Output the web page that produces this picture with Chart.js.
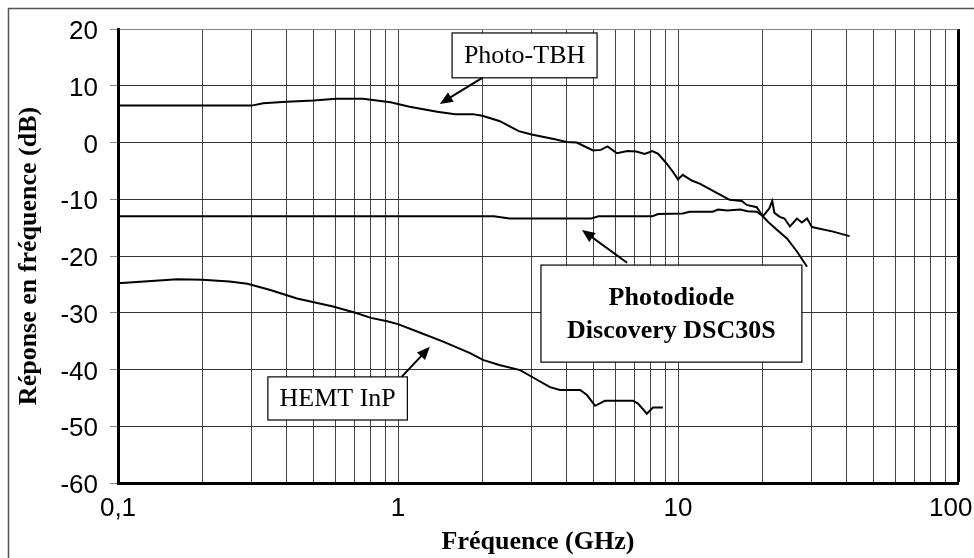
<!DOCTYPE html>
<html>
<head>
<meta charset="utf-8">
<script src="https://cdn.jsdelivr.net/npm/chart.js@4.4.1/dist/chart.umd.min.js"></script>
<style>
body { margin: 0; background: #ffffff; overflow: hidden; }
#wrap { position: relative; width: 974px; height: 558px; }
</style>
</head>
<body>
<div id="wrap"><canvas id="chart" width="974" height="558"></canvas></div>
<script>
// Photo-TBH
var tbhFreq = [0.1, 0.3, 0.33, 0.4, 0.5, 0.6, 0.75, 0.94, 1.1, 1.38, 1.6, 1.85, 2.0, 2.3, 2.7, 3.0, 3.6, 4.0, 4.35,
  4.97, 5.3, 5.6, 6.05, 6.6, 7.1, 7.6, 8.1, 8.5, 9.1, 9.6, 10.0, 10.4, 11.2, 12.0, 13.8, 15.3, 16.9, 17.6, 19.1,
  20.1, 21.2, 21.7, 22.1, 23.1, 24.0, 25.1, 26.6, 27.7, 28.9, 30.1, 35.8, 41.0];
var tbhDb = [6.5, 6.5, 6.9, 7.2, 7.4, 7.7, 7.7, 7.1, 6.3, 5.4, 5.0, 5.0, 4.7, 3.8, 2.0, 1.4, 0.6, 0.1, 0.0,
  -1.4, -1.3, -0.7, -1.9, -1.5, -1.6, -2.0, -1.5, -2.0, -3.7, -5.2, -6.5, -5.7, -6.7, -7.3, -8.9, -10.1, -10.3, -11.0, -11.4,
  -13.0, -11.6, -10.3, -12.4, -13.1, -13.4, -14.8, -13.4, -14.1, -13.4, -14.9, -15.7, -16.5];

// Photodiode Discovery DSC30S
var pdFreq = [0.1, 2.2, 2.5, 4.9, 5.2, 8.1, 8.5, 10.4, 11.0, 13.3, 13.9, 15.0, 16.7, 17.7, 19.1, 20.1, 21.0, 22.6, 24.5, 26.6, 28.9];
var pdDb = [-13.0, -13.0, -13.4, -13.4, -13.0, -13.0, -12.6, -12.5, -12.2, -12.2, -11.8, -12.0, -11.8, -12.1, -12.2, -13.0, -14.0, -15.4, -16.9, -19.2, -21.9];

// HEMT InP
var hemtFreq = [0.1, 0.163, 0.2, 0.25, 0.29, 0.35, 0.436, 0.586, 0.714, 0.8, 0.915, 1.0, 1.17, 1.45, 1.81, 2.01, 2.3,
  2.73, 2.96, 3.49, 3.79, 4.47, 4.73, 5.06, 5.49, 6.9, 7.2, 7.74, 8.14, 8.83];
var hemtDb = [-24.8, -24.1, -24.2, -24.5, -24.9, -26.0, -27.5, -28.9, -30.1, -30.9, -31.5, -32.0, -33.3, -35.1, -37.1, -38.3, -39.2,
  -40.1, -41.1, -43.1, -43.6, -43.6, -44.5, -46.4, -45.5, -45.5, -46.0, -47.8, -46.7, -46.7];

// axes
var xGrid = [0.1, 0.2, 0.3, 0.4, 0.5, 0.6, 0.7, 0.8, 0.9, 1, 2, 3, 4, 5, 6, 7, 8, 9, 10, 20, 30, 40, 50, 60, 70, 80, 90, 100];
var xMajor = [0.1, 1, 10, 100];
var xLabels = ["0,1", "1", "10", "100  "];   // trailing spaces keep "100" inside the frame
var yTicks = [-60, -50, -40, -30, -20, -10, 0, 10, 20];

// text boxes and arrows (data units)
var notes = [
  { text: ["Photo-TBH"], bold: false, x0: 1.56, x1: 5.14, y0: 19.3, y1: 11.4, from: [2.0, 11.4], to: [1.41, 6.8] },
  { text: ["Photodiode", "Discovery DSC30S"], bold: true, x0: 3.24, x1: 27.7, y0: -21.6, y1: -38.7, from: [6.58, -21.2], to: [4.54, -15.4] },
  { text: ["HEMT InP"], bold: false, x0: 0.343, x1: 1.08, y0: -41.3, y1: -48.9, from: [1.03, -41.3], to: [1.30, -36.0] }
];

function pts(xs, ys) {
  return xs.map(function (v, i) { return { x: v, y: ys[i] }; });
}

var notesPlugin = {
  id: "notes",
  beforeDraw: function (chart) {
    var c = chart.ctx;
    c.save();
    c.fillStyle = "#fff";
    c.fillRect(0, 0, chart.width, chart.height);
    c.strokeStyle = "#555";
    c.lineWidth = 1.5;
    c.beginPath();
    c.moveTo(8.5, chart.height);
    c.lineTo(8.5, 8.5);
    c.lineTo(chart.width, 8.5);
    c.stroke();
    c.restore();
  },
  afterDatasetsDraw: function (chart) {
    var c = chart.ctx, xs = chart.scales.x, ys = chart.scales.y;
    c.save();
    notes.forEach(function (n) {
      var l = xs.getPixelForValue(n.x0), r = xs.getPixelForValue(n.x1);
      var t = ys.getPixelForValue(n.y0), b = ys.getPixelForValue(n.y1);
      c.fillStyle = "#fff";
      c.fillRect(l, t, r - l, b - t);
      c.strokeStyle = "#000";
      c.lineWidth = 1.2;
      c.strokeRect(l, t, r - l, b - t);
      c.fillStyle = "#000";
      c.font = (n.bold ? "bold " : "") + "26px 'Liberation Serif', 'Times New Roman', serif";
      c.textAlign = "center";
      c.textBaseline = "middle";
      var cx = (l + r) / 2, cy = (t + b) / 2, lh = 33;
      n.text.forEach(function (s, i) {
        c.fillText(s, cx, cy + (i - (n.text.length - 1) / 2) * lh + 1);
      });
      // arrow
      var ax = xs.getPixelForValue(n.from[0]), ay = ys.getPixelForValue(n.from[1]);
      var bx = xs.getPixelForValue(n.to[0]), by = ys.getPixelForValue(n.to[1]);
      var ang = Math.atan2(by - ay, bx - ax);
      c.lineWidth = 2;
      c.beginPath();
      c.moveTo(ax, ay);
      c.lineTo(bx - 8 * Math.cos(ang), by - 8 * Math.sin(ang));
      c.stroke();
      c.beginPath();
      c.moveTo(bx, by);
      c.lineTo(bx - 13 * Math.cos(ang) + 5.5 * Math.sin(ang), by - 13 * Math.sin(ang) - 5.5 * Math.cos(ang));
      c.lineTo(bx - 13 * Math.cos(ang) - 5.5 * Math.sin(ang), by - 13 * Math.sin(ang) + 5.5 * Math.cos(ang));
      c.closePath();
      c.fill();
    });
    c.restore();
  }
};

var lineStyle = { borderColor: "#000", borderWidth: 2, pointRadius: 0, tension: 0, fill: false };

new Chart(document.getElementById("chart"), {
  type: "line",
  data: {
    datasets: [
      Object.assign({ label: "Photo-TBH", data: pts(tbhFreq, tbhDb) }, lineStyle),
      Object.assign({ label: "Photodiode Discovery DSC30S", data: pts(pdFreq, pdDb) }, lineStyle),
      Object.assign({ label: "HEMT InP", data: pts(hemtFreq, hemtDb) }, lineStyle)
    ]
  },
  options: {
    responsive: false,
    animation: false,
    layout: { padding: { left: 0, top: 29, right: 16, bottom: 0 } },
    plugins: { legend: { display: false }, tooltip: { enabled: false } },
    scales: {
      x: {
        type: "logarithmic",
        min: 0.1,
        max: 100,
        afterBuildTicks: function (s) { s.ticks = xGrid.map(function (v) { return { value: v }; }); },
        afterFit: function (s) { s.height = 75; s.paddingLeft = 0; s.paddingRight = 0; },
        ticks: {
          autoSkip: false,
          maxRotation: 0,
          padding: 10,
          color: "#000",
          font: { family: "'Liberation Sans', Arial, sans-serif", size: 26 },
          callback: function (v) {
            for (var i = 0; i < xMajor.length; i++) {
              if (Math.abs(v - xMajor[i]) < 1e-9) return xLabels[i];
            }
            return "";
          }
        },
        grid: {
          drawTicks: false,
          color: function (ctx) { return ctx.tick && ctx.tick.value === 100 ? "#000" : "#444"; },
          lineWidth: function (ctx) { return ctx.tick && ctx.tick.value === 100 ? 3 : 1; }
        },
        border: { display: true, color: "#000", width: 3 },
        title: {
          display: true,
          text: "Fréquence (GHz)",
          color: "#000",
          font: { family: "'Liberation Serif', 'Times New Roman', serif", size: 26, weight: "bold" },
          padding: { top: 0, bottom: 0 }
        }
      },
      y: {
        min: -60,
        max: 20,
        afterBuildTicks: function (s) { s.ticks = yTicks.map(function (v) { return { value: v }; }); },
        afterFit: function (s) { s.width = 118; s.paddingTop = 0; s.paddingBottom = 0; },
        ticks: {
          padding: 12,
          labelOffset: 3,
          color: "#000",
          font: { family: "'Liberation Sans', Arial, sans-serif", size: 26 }
        },
        grid: {
          color: function (ctx) { return ctx.tick && ctx.tick.value === 20 ? "#888" : "#333"; },
          lineWidth: 1,
          tickLength: 8,
          tickColor: "#888"
        },
        border: { display: true, color: "#000", width: 3 },
        title: {
          display: true,
          text: "Réponse en fréquence (dB)",
          color: "#000",
          font: { family: "'Liberation Serif', 'Times New Roman', serif", size: 26, weight: "bold" },
          padding: { top: 14, bottom: 0 }
        }
      }
    }
  },
  plugins: [notesPlugin]
});
</script>
</body>
</html>
